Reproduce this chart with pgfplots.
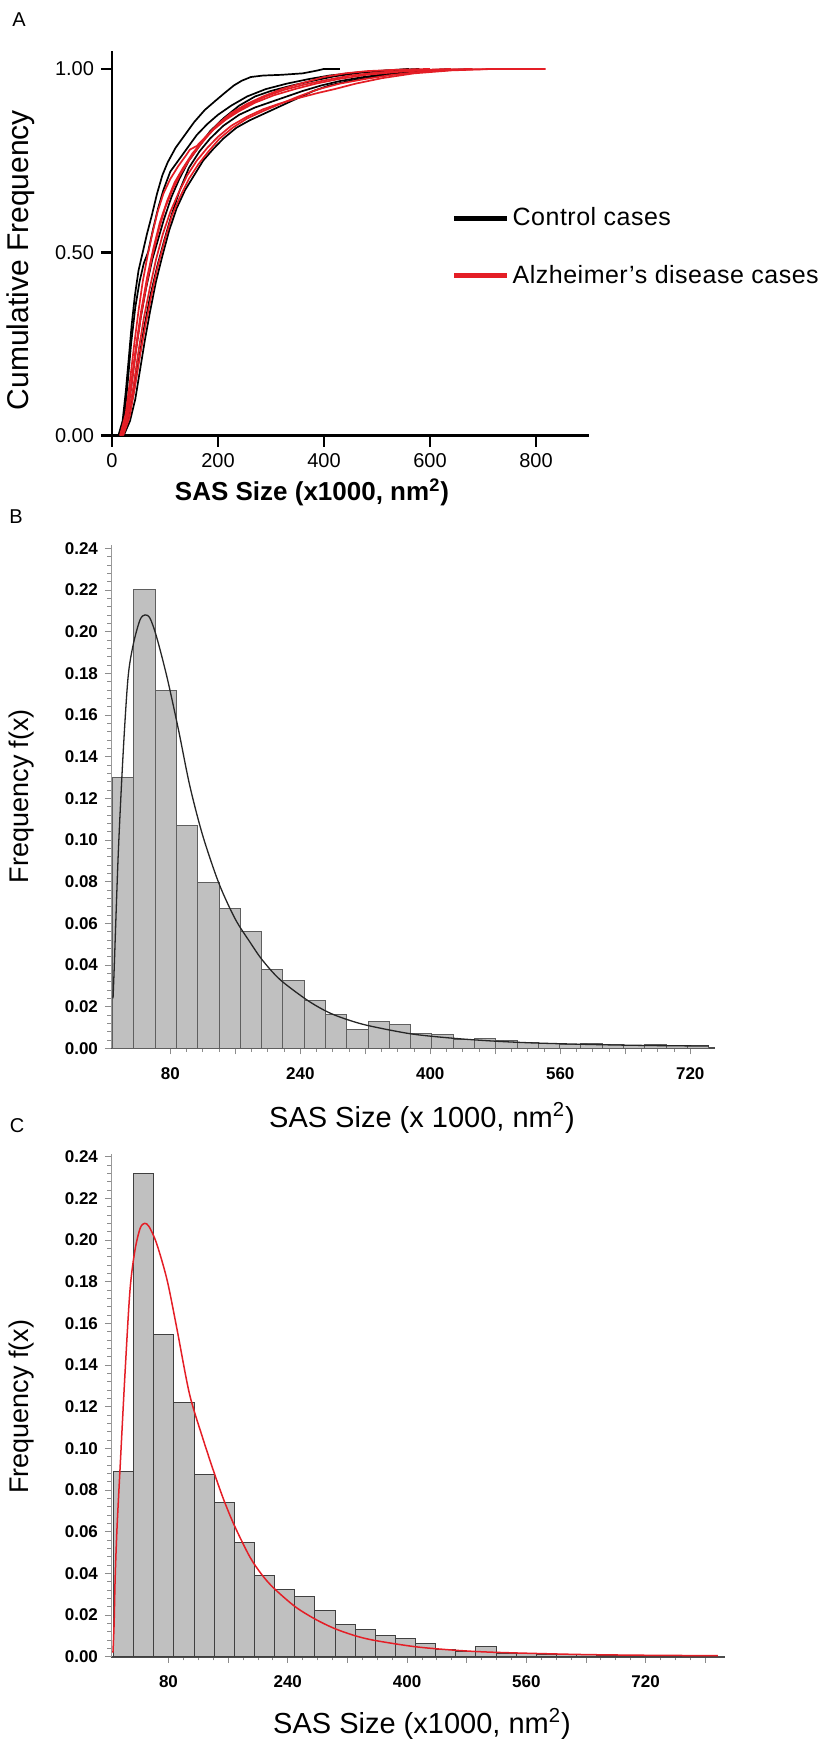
\documentclass[border=0pt]{standalone}
\usepackage{fontspec}
\setmainfont{Liberation Sans}
\usepackage{pgfplots}
\pgfplotsset{compat=1.18}

\definecolor{adred}{RGB}{228,30,38}
\definecolor{barfill}{RGB}{192,192,192}
\definecolor{baredge}{RGB}{95,95,95}

\begin{document}
\begin{tikzpicture}
\useasboundingbox (0,0) rectangle (409.5pt,-871pt);

% ---------------- panel A: cumulative frequency
\begin{axis}[
  at={(56pt,-217.8pt)}, anchor=south west, scale only axis,
  width=238.5pt, height=192.5pt,
  xmin=0, xmax=900, ymin=0, ymax=1.05,
  axis lines*=left, axis line style={line width=1.35pt,-},
  tick align=outside, major tick length=5.5pt,
  tick style={line width=1.35pt, black},
  xtick={0,200,...,800}, ytick={0,0.5,1},
  /pgf/number format/assume math mode=true,
  tick label style={font=\fontsize{10}{12}\selectfont},
  yticklabel style={/pgf/number format/fixed, /pgf/number format/fixed zerofill, /pgf/number format/precision=2},
  legend image code/.code={\draw[#1] (0pt,0pt) -- (19pt,0pt); \path (0pt,0pt) -- (26pt,0pt);},
  legend cell align=left,
  legend style={draw=none, fill=none, at={(0.70,0.49)}, anchor=west,
    font=\fontsize{12.5}{14}\selectfont\addfontfeature{LetterSpace=2}, row sep=14pt},
]
\addlegendimage{black, line width=2.2pt}
\addlegendentry{Control cases}
\addlegendimage{adred, line width=2.2pt}
\addlegendentry{Alzheimer’s disease cases}

% control cases
\addplot[black, line width=0.85pt] coordinates {
(12,0)(20,0.04)(26,0.12)(31,0.2)(37,0.3)(43,0.38)(50,0.45)(58,0.5)(66,0.55)(75,0.6)(85,0.66)(95,0.71)(105,0.745)(120,0.785)(135,0.815)(155,0.855)(175,0.888)(195,0.913)(213,0.935)(230,0.955)(245,0.968)(262,0.978)(285,0.982)(320,0.984)(360,0.988)(385,0.995)(400,1)(430,1)};
\addplot[black, line width=0.85pt] coordinates {
(14,0)(24,0.06)(30,0.15)(36,0.25)(44,0.35)(52,0.42)(60,0.47)(68,0.5)(77,0.56)(87,0.62)(97,0.67)(110,0.72)(125,0.75)(140,0.78)(160,0.82)(180,0.85)(200,0.875)(225,0.9)(255,0.925)(290,0.945)(330,0.96)(370,0.972)(410,0.982)(460,0.99)(520,0.996)(580,1)};
\addplot[black, line width=0.85pt] coordinates {
(18,0)(28,0.05)(36,0.13)(44,0.22)(54,0.32)(64,0.4)(76,0.48)(86,0.53)(98,0.59)(112,0.65)(127,0.7)(145,0.75)(165,0.79)(185,0.83)(210,0.865)(240,0.9)(270,0.925)(300,0.94)(340,0.955)(380,0.968)(420,0.98)(470,0.99)(530,0.997)(560,1)};
\addplot[black, line width=0.85pt] coordinates {
(20,0)(30,0.04)(40,0.11)(50,0.2)(60,0.29)(72,0.38)(85,0.46)(98,0.53)(112,0.6)(128,0.67)(145,0.73)(165,0.775)(185,0.81)(210,0.845)(240,0.875)(270,0.895)(300,0.91)(330,0.925)(360,0.94)(395,0.955)(430,0.967)(470,0.977)(520,0.987)(580,0.995)(640,1)};
\addplot[black, line width=0.85pt] coordinates {
(22,0)(34,0.04)(44,0.1)(53,0.18)(62,0.26)(72,0.34)(83,0.42)(95,0.49)(108,0.56)(122,0.62)(138,0.67)(155,0.71)(172,0.75)(190,0.78)(210,0.81)(235,0.84)(260,0.86)(290,0.88)(320,0.9)(350,0.92)(380,0.94)(410,0.955)(450,0.968)(500,0.98)(560,0.99)(620,0.996)(680,1)};

% Alzheimer's disease cases
\addplot[adred, line width=0.85pt] coordinates {
(15,0)(26,0.06)(34,0.15)(42,0.25)(50,0.34)(58,0.42)(67,0.49)(76,0.55)(86,0.61)(97,0.66)(110,0.7)(125,0.735)(140,0.765)(147,0.78)(160,0.79)(180,0.82)(200,0.85)(225,0.88)(255,0.905)(285,0.925)(320,0.945)(360,0.962)(400,0.978)(440,0.988)(480,0.994)(540,0.998)(600,1)};
\addplot[adred, line width=0.85pt] coordinates {
(17,0)(28,0.05)(37,0.14)(46,0.24)(55,0.33)(65,0.41)(76,0.49)(88,0.56)(100,0.62)(114,0.67)(128,0.71)(145,0.75)(165,0.79)(185,0.825)(205,0.855)(230,0.88)(260,0.905)(290,0.925)(325,0.943)(365,0.958)(405,0.97)(450,0.982)(500,0.99)(560,0.996)(640,1)};
\addplot[adred, line width=0.85pt] coordinates {
(19,0)(30,0.05)(40,0.13)(50,0.23)(60,0.32)(71,0.4)(83,0.48)(96,0.55)(110,0.61)(125,0.66)(142,0.71)(160,0.75)(180,0.785)(200,0.815)(225,0.845)(255,0.87)(285,0.89)(315,0.905)(350,0.92)(390,0.935)(420,0.945)(460,0.96)(510,0.975)(570,0.988)(640,0.996)(720,1)(818,1)};
\addplot[adred, line width=0.85pt] coordinates {
(16,0)(27,0.05)(36,0.14)(45,0.24)(55,0.34)(66,0.43)(78,0.51)(90,0.58)(104,0.64)(118,0.69)(134,0.73)(152,0.77)(172,0.805)(192,0.835)(215,0.862)(240,0.885)(270,0.908)(305,0.928)(345,0.945)(385,0.96)(430,0.973)(480,0.984)(540,0.992)(610,0.998)(680,1)};
\addplot[adred, line width=0.85pt] coordinates {
(21,0)(33,0.05)(43,0.13)(53,0.22)(63,0.3)(74,0.38)(86,0.46)(99,0.53)(113,0.6)(128,0.65)(145,0.7)(163,0.74)(182,0.775)(203,0.81)(228,0.84)(255,0.865)(285,0.885)(318,0.905)(352,0.925)(390,0.945)(430,0.96)(475,0.972)(525,0.983)(580,0.992)(650,0.998)(720,1)};
\end{axis}

\node[font=\fontsize{10}{12}\selectfont] at (9.5pt,-10pt) {A};
\node[rotate=90, font=\fontsize{15}{17}\selectfont] at (10.5pt,-130pt) {Cumulative Frequency};
\node[font=\bfseries\fontsize{13}{15}\selectfont] at (156pt,-246pt) {SAS Size (x1000, nm\textsuperscript{2})};

% ---------------- panel B: control histogram
\begin{axis}[
  at={(55.5pt,-524.15pt)}, anchor=south west, scale only axis,
  width=301.8pt, height=251.6pt,
  xmin=7, xmax=750, ymin=0, ymax=0.2415,
  axis lines*=left, axis line style={-},
  x axis line style={color=black!70, line width=0.9pt},
  y axis line style={color=black!40, line width=0.5pt},
  tick align=outside, major tick length=3pt, minor tick length=1.8pt,
  tick style={black!45, line width=0.4pt},
  xtick={80,160,240,320,400,480,560,640,720},
  xticklabels={80,,240,,400,,560,,720},
  minor x tick num=3,
  ytick={0,0.02,0.04,0.06,0.08,0.10,0.12,0.14,0.16,0.18,0.20,0.22,0.24},
  minor y tick num=4,
  /pgf/number format/assume math mode=true,
  tick label style={font=\bfseries\fontsize{8.5}{10}\selectfont, black},
  xticklabel style={yshift=-3pt},
  yticklabel style={/pgf/number format/fixed, /pgf/number format/fixed zerofill, /pgf/number format/precision=2},
]
\addplot[ybar interval, fill=barfill, draw=baredge, line width=0.5pt] coordinates {
(9.0,0.130)(35.2,0.220)(61.4,0.1715)(87.6,0.107)(113.8,0.0795)(140.0,0.067)(166.2,0.056)(192.4,0.038)
(218.6,0.0325)(244.8,0.023)(271.0,0.016)(297.2,0.009)(323.4,0.0128)(349.6,0.0115)(375.8,0.0072)(402.0,0.0067)
(428.2,0.0043)(454.4,0.0048)(480.6,0.0036)(506.8,0.0027)(533.0,0.0021)(559.2,0.0019)(585.4,0.0021)(611.6,0.0016)
(637.8,0.0014)(664.0,0.0018)(690.2,0.0014)(716.4,0.0014)(742.6,0)};
\addplot[black!85, line width=0.65pt, smooth] coordinates {
(9.5,0.024)(11,0.039)(16,0.094)(22,0.142)(28,0.178)(34.5,0.194)(42.7,0.2056)(48.9,0.208)(55,0.2064)(63,0.1976)
(76,0.178)(90,0.153)(104,0.126)(120,0.102)(140,0.079)(160,0.062)(178,0.051)(193,0.0425)(215,0.033)(249,0.023)
(275,0.0172)(300,0.0135)(326,0.0107)(377,0.0069)(429,0.0048)(481,0.0034)(533,0.0025)(614,0.0017)(680,0.0013)(743,0.0011)};
\end{axis}

\node[font=\fontsize{10}{12}\selectfont] at (8pt,-258.5pt) {B};
\node[rotate=90, font=\fontsize{13.5}{16}\selectfont] at (11pt,-398pt) {Frequency f(x)};
\node[font=\fontsize{14.5}{16}\selectfont] at (211pt,-559pt) {SAS Size (x 1000, nm\textsuperscript{2})};

% ---------------- panel C: Alzheimer's disease histogram
\begin{axis}[
  at={(55.5pt,-828.35pt)}, anchor=south west, scale only axis,
  width=306.8pt, height=251.6pt,
  xmin=2.9, xmax=826, ymin=0, ymax=0.2415,
  axis lines*=left, axis line style={-},
  x axis line style={color=black!70, line width=0.9pt},
  y axis line style={color=black!40, line width=0.5pt},
  tick align=outside, major tick length=3pt, minor tick length=1.8pt,
  tick style={black!45, line width=0.4pt},
  xtick={80,160,240,320,400,480,560,640,720,800},
  xticklabels={80,,240,,400,,560,,720,},
  minor x tick num=3,
  ytick={0,0.02,0.04,0.06,0.08,0.10,0.12,0.14,0.16,0.18,0.20,0.22,0.24},
  minor y tick num=4,
  /pgf/number format/assume math mode=true,
  tick label style={font=\bfseries\fontsize{8.5}{10}\selectfont, black},
  xticklabel style={yshift=-3pt},
  yticklabel style={/pgf/number format/fixed, /pgf/number format/fixed zerofill, /pgf/number format/precision=2},
]
\addplot[ybar interval, fill=barfill, draw=black!75, line width=0.5pt] coordinates {
(6.4,0.089)(33.4,0.2318)(60.4,0.1547)(87.4,0.1219)(114.4,0.0876)(141.4,0.0739)(168.4,0.0547)(195.4,0.0390)
(222.4,0.0324)(249.4,0.0290)(276.4,0.0223)(303.4,0.0154)(330.4,0.0133)(357.4,0.0103)(384.4,0.0088)(411.4,0.0063)
(438.4,0.0034)(465.4,0.0025)(492.4,0.0050)(519.4,0.0015)(546.4,0.0016)(573.4,0.0010)(600.4,0.0012)(627.4,0.0011)
(654.4,0.0006)(681.4,0.0005)(708.4,0.0004)(735.4,0.0003)(762.4,0.0002)(789.4,0.0002)(816.4,0)};
\addplot[adred, line width=0.75pt, smooth] coordinates {
(5.5,0.002)(7,0.015)(8.5,0.038)(11,0.062)(15,0.09)(21.7,0.136)(28.4,0.176)(35,0.195)(42,0.2056)(48,0.208)
(54,0.2064)(64,0.1984)(78,0.181)(91,0.158)(108,0.1264)(125,0.106)(142,0.0875)(155,0.0745)(169,0.0625)(189,0.048)
(205,0.0395)(221,0.033)(250,0.024)(277,0.018)(303,0.0135)(331,0.0100)(357,0.0078)(411,0.0048)(465,0.0031)(519,0.0021)(628,0.0011)(720,0.0007)(817,0.0005)};
\end{axis}

\node[font=\fontsize{10}{12}\selectfont] at (8.5pt,-563pt) {C};
\node[rotate=90, font=\fontsize{13.5}{16}\selectfont] at (11pt,-703.4pt) {Frequency f(x)};
\node[font=\fontsize{14.5}{16}\selectfont] at (211pt,-862pt) {SAS Size (x1000, nm\textsuperscript{2})};
\end{tikzpicture}
\end{document}
